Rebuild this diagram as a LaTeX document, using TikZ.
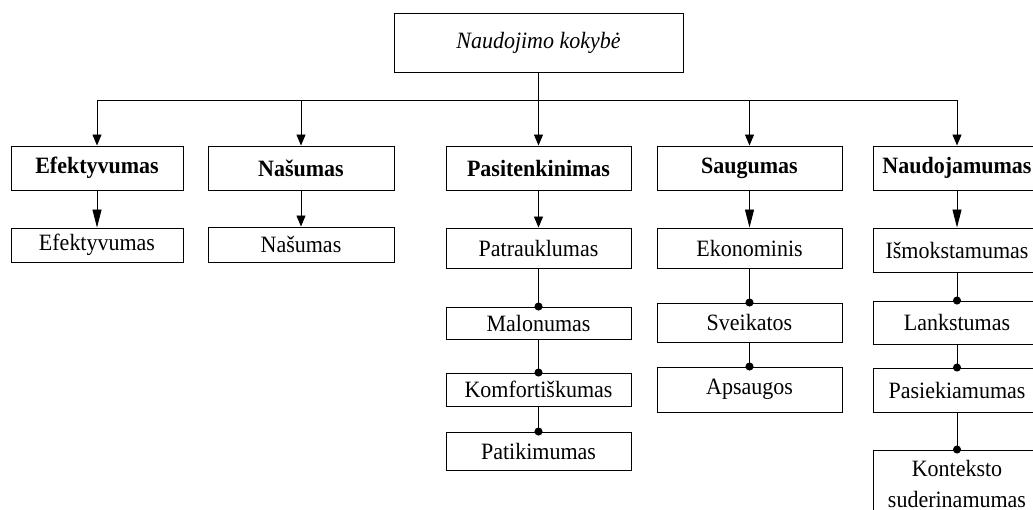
\documentclass[tikz,border=0pt]{standalone}
\usepackage{fontspec}
\setmainfont{Liberation Serif}[FakeStretch=0.94]
\usetikzlibrary{arrows.meta}
\begin{document}
\begin{tikzpicture}[x=1pt,y=-1pt,
  box/.style={draw, line width=0.95pt, inner sep=0pt, align=center,
    font=\fontsize{23.4}{31}\selectfont},
  headbox/.style={box, minimum height=44pt, font=\fontsize{23.4}{28}\selectfont\bfseries},
  wire/.style={line width=0.95pt},
  tip/.style={wire, -{Triangle[length=11pt,width=9pt]}},
  longtip/.style={wire, -{Triangle[length=18pt,width=9pt]}},
  dotted end/.style={wire, -{Circle[length=8pt,width=8pt]}, shorten >=-4pt}]
\clip (0,0) rectangle (1033,510);
\fill[white] (0,0) rectangle (1033,510);

% root
\node[box, minimum width=289pt, minimum height=59pt,
      font=\fontsize{23.4}{28}\selectfont\itshape] (root) at (538.5,42.5) {Naudojimo kokybė};
\coordinate (bus) at (538.5,100);

% main characteristics
\node[headbox, minimum width=172pt] (eff) at (97,168)    {Efektyvumas};
\node[headbox, minimum width=186pt] (nas) at (301,168)   {Našumas};
\node[headbox, minimum width=185pt] (sat) at (538.5,168) {Pasitenkinimas};
\node[headbox, minimum width=185pt] (sau) at (749.5,168) {Saugumas};
\node[headbox, minimum width=168pt] (nau) at (957,168)   {Naudojamumas};

% sub-characteristics
\node[box, minimum width=172pt, minimum height=34pt] (eff2) at (97,245)    {Efektyvumas};
\node[box, minimum width=186pt, minimum height=35pt] (nas2) at (301,244.5) {Našumas};

\node[box, minimum width=185pt, minimum height=40pt] (pat)  at (538.5,248) {Patrauklumas};
\node[box, minimum width=185pt, minimum height=32pt] (mal)  at (538.5,323) {Malonumas};
\node[box, minimum width=185pt, minimum height=33pt] (kom)  at (538.5,389.5) {Komfortiškumas};
\node[box, minimum width=185pt, minimum height=38pt] (pati) at (538.5,451) {Patikimumas};

\node[box, minimum width=185pt, minimum height=40pt] (eko) at (749.5,248)   {Ekonominis};
\node[box, minimum width=185pt, minimum height=39pt] (sve) at (749.5,322.5) {Sveikatos};
\node[box, minimum width=185pt, minimum height=45pt] (aps) at (749.5,389.5) {Apsaugos};

\node[box, minimum width=168pt, minimum height=44pt] (ism) at (957,250)   {Išmokstamumas};
\node[box, minimum width=168pt, minimum height=43pt] (lan) at (957,322.5) {Lankstumas};
\node[box, minimum width=168pt, minimum height=44pt] (pas) at (957,390)   {Pasiekiamumas};
\node[box, minimum width=168pt, minimum height=68pt] (kon) at (957,484)   {Konteksto\\suderinamumas};

% root to main characteristics
\draw[tip] (root.south) -- (root.south |- bus) -| (eff.north);
\draw[tip] (root.south) -- (root.south |- bus) -| (nas.north);
\draw[tip] (root.south) -- (sat.north);
\draw[tip] (root.south) -- (root.south |- bus) -| (sau.north);
\draw[tip] (root.south) -- (root.south |- bus) -| (nau.north);

% main characteristics to first sub-characteristic
\draw[longtip] (eff.south) -- (eff2.north);
\draw[tip]     (nas.south) -- (nas2.north);
\draw[tip]     (sat.south) -- (pat.north);
\draw[longtip] (sau.south) -- (eko.north);
\draw[longtip] (nau.south) -- (ism.north);

% chains of sub-characteristics
\draw[dotted end] (pat.south) -- (mal.north);
\draw[dotted end] (mal.south) -- (kom.north);
\draw[dotted end] (kom.south) -- (pati.north);

\draw[dotted end] (eko.south) -- (sve.north);
\draw[dotted end] (sve.south) -- (aps.north);

\draw[dotted end] (ism.south) -- (lan.north);
\draw[dotted end] (lan.south) -- (pas.north);
\draw[dotted end] (pas.south) -- (kon.north);
\end{tikzpicture}
\end{document}
